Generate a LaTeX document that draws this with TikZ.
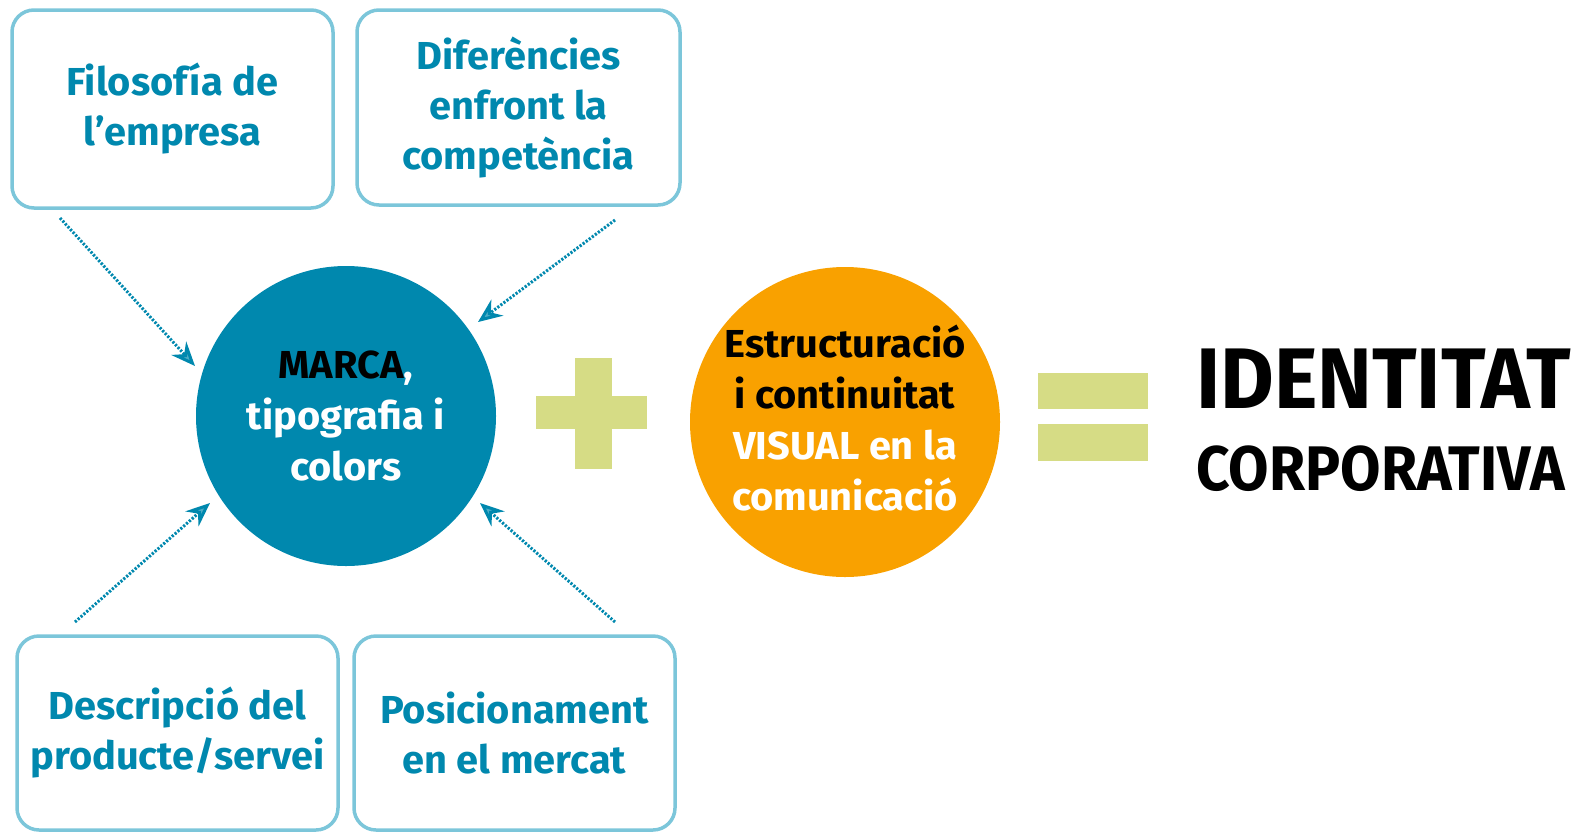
\documentclass[tikz,border=0pt]{standalone}
\usepackage{fontspec}
\newfontfamily\cf{Fira Sans}[FakeStretch=1.02]
\newfontfamily\cfid{Fira Sans}[FakeStretch=0.96]
\newfontfamily\cfco{Fira Sans}[FakeStretch=0.93]
\usetikzlibrary{arrows.meta}
\definecolor{teal}{HTML}{0088AE}
\definecolor{bord}{HTML}{7CC6DA}
\definecolor{orng}{HTML}{F9A100}
\definecolor{lime}{HTML}{D6DC85}
\tikzset{
  infobox/.style={draw=bord, line width=3.5pt, rounded corners=22pt, inner sep=0pt,
    font=\cf\bfseries\fontsize{39}{50}\selectfont, text=teal, align=center},
  bigcirc/.style={circle, inner sep=0pt, align=center, font=\cf\bfseries\fontsize{39}{51}\selectfont},
  feed/.style={draw=teal, line width=3pt, dash pattern=on 2.2pt off 1.6pt,
    -{Stealth[length=24pt,width=20pt,inset=8pt,fill=teal!70]}},
  bar/.style={fill=lime, draw=none}
}
\begin{document}
\begin{tikzpicture}[x=1pt,y=-1pt]
\useasboundingbox (0,0) rectangle (1576,833);
% boxes
\node[infobox, minimum width=321pt, minimum height=198pt] (b1) at (172.5,109) {Filosofía de\\l’empresa};
\node[infobox, minimum width=323pt, minimum height=195pt] (b2) at (518.5,107.5) {Diferències\\enfront la\\competència};
\node[infobox, minimum width=321pt, minimum height=194pt] (b3) at (177.5,733) {Descripció del\\producte/servei};
\node[infobox, minimum width=321pt, minimum height=194pt] (b4) at (514.5,733) {Posicionament\\en el mercat};
% circles
\node[bigcirc, fill=teal, minimum size=300pt, text=white] (c1) at (346,416)
  {\textcolor{black}{MARCA},\\tipografia i\\colors};
\node[bigcirc, fill=orng, minimum size=310pt, text=white] (c2) at (845,422) {};
\node[bigcirc, text=white, anchor=center] (t2) at (845,418)
  {\textcolor{black}{Estructuració}\\\textcolor{black}{i continuitat}\\VISUAL en la\\comunicació};
% arrows
\coordinate (a1s) at (60,218); \coordinate (a1e) at (195,366);
\coordinate (a2s) at (615,220); \coordinate (a2e) at (478,322);
\coordinate (a3s) at (75,622); \coordinate (a3e) at (210,503);
\coordinate (a4s) at (615,622); \coordinate (a4e) at (480,503);
\draw[feed] (a1s) -- (a1e);
\draw[feed] (a2s) -- (a2e);
\draw[feed] (a3s) -- (a3e);
\draw[feed] (a4s) -- (a4e);
% plus
\path[bar] (536,396) rectangle (647,429);
\path[bar] (575,358) rectangle (612,469);
% equals
\path[bar] (1038,373) rectangle (1148,409);
\path[bar] (1038,424) rectangle (1148,461);
% result
\node[anchor=base west, inner sep=0pt, font=\cfid\bfseries\fontsize{86}{86}\selectfont] (id) at (1196,408) {IDENTITAT};
\node[anchor=base west, inner sep=0pt, font=\cfco\bfseries\fontsize{63}{63}\selectfont] (co) at (1196,490) {CORPORATIVA};
\end{tikzpicture}
\end{document}
